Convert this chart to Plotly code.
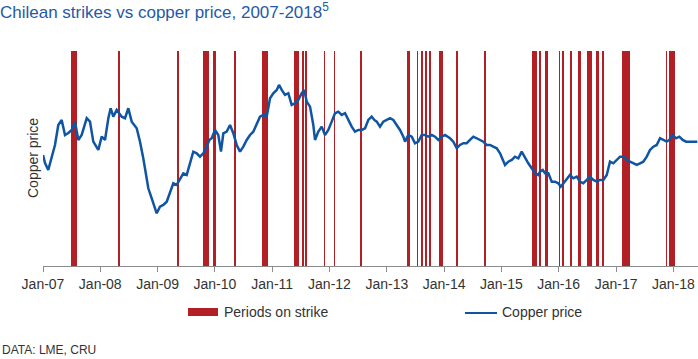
import numpy as np
import pandas as pd
import plotly.graph_objects as go

# ---- data ----
# copper price: time in years since 2007-01-01, price in US$/t (approx.)
price_t = [0.0,0.035,0.092,0.152,0.209,0.267,0.326,0.384,0.442,0.501,0.558,0.616,0.675,0.763,0.820,0.878,0.937,0.965,1.024,1.082,
           1.140,1.181,1.227,1.286,1.373,1.431,1.489,1.548,1.635,1.693,1.750,1.798,1.838,1.897,1.955,1.984,2.042,2.099,2.159,2.216,
           2.274,2.333,2.391,2.448,2.508,2.565,2.623,2.682,2.740,2.798,2.857,2.902,
           2.944,3.002,3.059,3.106,3.147,3.206,3.264,3.321,3.380,3.438,3.496,3.555,3.613,3.670,3.729,3.787,3.845,3.904,3.962,4.019,
           4.079,4.119,4.166,4.223,4.281,4.340,4.398,4.455,4.515,4.560,4.602,4.660,4.717,4.747,4.805,4.864,4.921,4.979,5.038,5.096,
           5.154,5.213,5.271,5.328,5.387,5.445,5.503,5.562,5.620,5.677,5.736,5.782,
           5.824,5.881,5.939,5.998,6.056,6.113,6.173,6.230,6.288,6.318,6.375,6.435,6.492,6.550,6.609,6.667,6.724,6.783,6.841,6.899,
           6.958,7.016,7.103,7.161,7.220,7.277,7.335,7.394,7.452,7.510,7.569,7.627,7.684,7.743,7.801,7.859,7.918,7.976,8.033,8.063,
           8.120,8.180,8.237,8.295,8.354,8.412,8.469,8.529,8.586,8.644,
           8.674,8.721,8.761,8.819,8.878,8.935,8.993,9.035,9.080,9.140,9.197,9.255,9.314,9.372,9.429,9.489,9.546,9.604,9.663,9.721,
           9.778,9.838,9.895,9.953,10.012,10.070,10.127,10.187,10.244,10.302,10.361,10.419,10.476,10.536,10.593,10.651,10.710,10.768,
           10.825,10.885,10.930,10.990,11.047,11.105,11.164,11.222,11.279,11.349,11.419]
price_val = [6172,5727,5338,6077,6728,7840,8118,7284,7395,7562,8023,7006,7284,8212,8023,6911,6633,6450,7189,7006,
             8212,8768,8301,8674,8301,8212,8768,8023,7656,6911,5988,5060,4320,3764,3208,2930,3297,3392,3575,4042,
             4598,4504,4876,5154,5060,5710,6355,6266,6077,6266,6633,7006,
             7100,7562,7284,6355,7378,7467,7840,7378,6728,6355,6633,7006,7284,7467,7934,8301,8396,8301,9324,9602,
             9786,10064,9786,9508,9602,8952,9046,9230,9602,9786,9135,8857,7840,7006,7467,7745,7284,7562,8023,8490,
             8579,8396,8490,8118,7745,7467,7562,7562,7656,8118,8301,8118,
             8023,7745,8023,8118,8212,8118,7840,7562,7189,6911,7284,7189,6822,6911,7284,7284,7189,7284,7189,7006,
             7189,7284,7100,6911,6544,6728,6822,6822,7006,7189,7100,7006,6911,6728,6728,6633,6544,6266,5894,5616,
             5799,5894,6077,5988,6355,5988,5710,5432,5154,5060,
             5243,5338,5154,5154,4687,4687,4598,4409,4598,4782,5060,4876,4965,4687,4598,4782,4965,4782,4687,4782,
             4782,5060,5799,5710,5894,6077,6077,5894,5799,5710,5616,5710,5799,6077,6450,6633,6728,7100,7006,6911,
             7006,7284,7100,7189,7006,6911,6911,6911,6911]
assert len(price_t) == len(price_val)

strike_start = ["2007-06-28","2008-04-20","2009-05-08","2009-10-14","2009-12-25","2010-05-06","2010-10-25",
                "2011-05-21","2011-07-09","2011-07-28","2011-11-28","2012-01-31","2012-07-15","2013-05-12",
                "2013-07-14","2013-08-10","2013-08-31","2013-09-28","2013-11-28","2014-03-22","2014-09-18",
                "2015-07-18","2015-09-03","2015-10-04","2016-01-05","2016-01-23","2016-03-17","2016-05-03",
                "2016-07-02","2016-08-27","2016-10-03","2017-02-09","2017-11-15","2017-12-02"]
strike_end = ["2007-08-05","2008-05-03","2009-05-16","2009-11-25","2010-01-05","2010-05-14","2010-12-06",
              "2011-06-18","2011-07-24","2011-08-12","2011-12-01","2012-02-03","2012-07-26","2013-05-31",
              "2013-07-18","2013-08-20","2013-09-15","2013-10-08","2013-12-22","2014-03-25","2014-09-24",
              "2015-08-18","2015-09-07","2015-10-25","2016-01-08","2016-02-02","2016-03-25","2016-05-22",
              "2016-07-29","2016-09-16","2016-10-16","2017-03-30","2017-11-20","2018-01-11"]

Y_MAX = 11950
X_START = "2007-01-01"
X_END = "2018-06-07"

RED = "#B21F24"
BLUE = "#0F55A3"
TXT = "#333333"
FONT = "Arial, Liberation Sans, sans-serif"

# ---- build ----
t0 = pd.Timestamp(X_START)
price_dates = t0 + pd.to_timedelta(np.array(price_t) * 365.25, unit="D")

s = pd.to_datetime(strike_start)
e = pd.to_datetime(strike_end)
widths_ms = ((e - s) / pd.Timedelta(milliseconds=1)).astype(float)

fig = go.Figure()
fig.add_trace(go.Bar(
    x=s, y=[Y_MAX] * len(s), width=list(widths_ms), offset=0,
    marker=dict(color=RED, line=dict(width=0)), name="Periods on strike",
    showlegend=False, hoverinfo="skip"))
fig.add_trace(go.Scatter(
    x=price_dates, y=price_val, mode="lines", name="Copper price",
    line=dict(color=BLUE, width=2.5), showlegend=False))

W, H = 698, 359
ML, MR, MT, MB = 43, 0, 51, 93
PW, PH = W - ML - MR, H - MT - MB

def px(xp):
    return (xp - ML) / PW

def py(yp):
    return (H - MB - yp) / PH

fig.update_layout(
    width=W, height=H,
    margin=dict(l=ML, r=MR, t=MT, b=MB, pad=0, autoexpand=False),
    paper_bgcolor="white", plot_bgcolor="white",
    font=dict(family=FONT, size=14, color=TXT),
    bargap=0,
    title=dict(text="Chilean strikes vs copper price, 2007-2018<sup>5</sup>",
               font=dict(family=FONT, size=17, color="#1F5AA6"),
               x=0.0, xref="container", xanchor="left",
               y=1 - 12 / H, yref="container", yanchor="middle"),
    xaxis=dict(type="date", range=[X_START, X_END],
               tick0="2007-01-01", dtick="M12", tickformat="%b-%y",
               showgrid=False, zeroline=False, automargin=False,
               showline=True, linecolor="#8C8C8C", linewidth=1,
               ticks="outside", ticklen=5, tickcolor="#8C8C8C",
               tickfont=dict(family=FONT, size=14, color=TXT)),
    yaxis=dict(range=[0, Y_MAX], showticklabels=False, showgrid=False,
               zeroline=False, showline=False, ticks="", automargin=False),
)

ann = [
    dict(text="Copper price", x=px(33), y=py(158), xref="paper", yref="paper",
         textangle=-90, showarrow=False, xanchor="center", yanchor="middle",
         font=dict(family=FONT, size=14, color=TXT)),
    dict(text="Periods on strike", x=px(222), y=py(312), xref="paper", yref="paper",
         showarrow=False, xanchor="left", yanchor="middle",
         font=dict(family=FONT, size=14, color=TXT)),
    dict(text="Copper price", x=px(500), y=py(312), xref="paper", yref="paper",
         showarrow=False, xanchor="left", yanchor="middle",
         font=dict(family=FONT, size=14, color=TXT)),
    dict(text="DATA: LME, CRU", x=px(0), y=py(350), xref="paper", yref="paper",
         showarrow=False, xanchor="left", yanchor="middle",
         font=dict(family=FONT, size=12, color=TXT)),
]
fig.update_layout(annotations=ann)

fig.add_shape(type="rect", xref="paper", yref="paper",
              x0=px(188), x1=px(218), y0=py(316), y1=py(308),
              fillcolor=RED, line=dict(width=0))
fig.add_shape(type="line", xref="paper", yref="paper",
              x0=px(465), x1=px(497), y0=py(313), y1=py(313),
              line=dict(color=BLUE, width=2))

fig.write_html("out.html", config={"displayModeBar": False},
               post_script="document.body.style.margin='0px';document.body.style.padding='0px';document.body.style.overflow='hidden';")
